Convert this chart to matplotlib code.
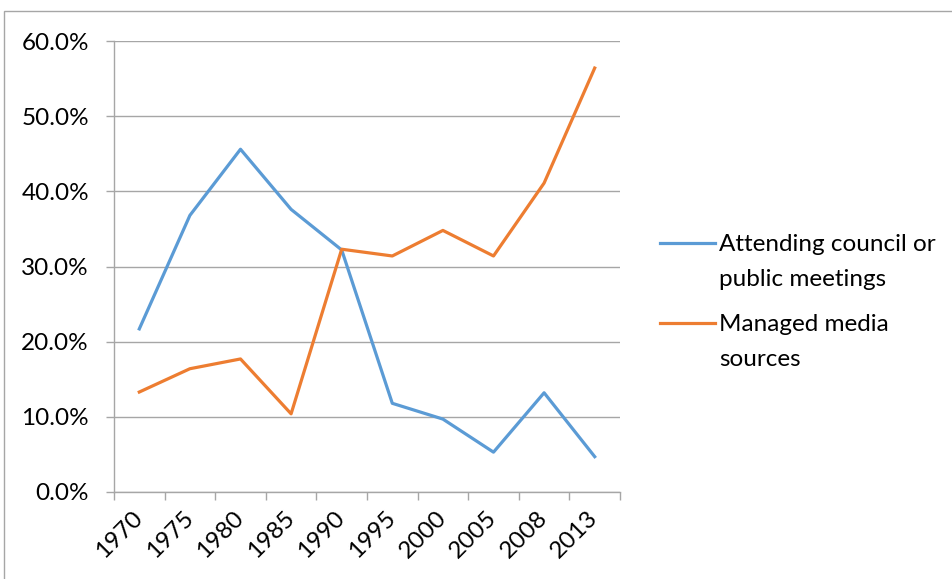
import matplotlib.pyplot as plt
from matplotlib.lines import Line2D
from matplotlib.patches import Rectangle
from matplotlib.ticker import FixedLocator, PercentFormatter

plt.rcParams['font.family'] = ['Lato', 'DejaVu Sans']

years = ['1970', '1975', '1980', '1985', '1990', '1995', '2000', '2005', '2008', '2013']
attending = [0.217, 0.368, 0.456, 0.376, 0.322, 0.118, 0.097, 0.053, 0.132, 0.047]
managed = [0.133, 0.164, 0.177, 0.104, 0.323, 0.314, 0.348, 0.314, 0.411, 0.564]
names = ['Attending council or\npublic meetings', 'Managed media\nsources']
colors = ['#5B9BD5', '#ED7D31']
gray = '#A6A6A6'
fs = 17.5

fig = plt.figure(figsize=(9.52, 5.79), dpi=100)
ax = fig.add_axes([114 / 952, 1 - 492 / 579, 506 / 952, 451 / 579])

x = list(range(len(years)))
ax.plot(x, attending, color=colors[0], lw=2.3, solid_joinstyle='round')
ax.plot(x, managed, color=colors[1], lw=2.3, solid_joinstyle='round')

ax.set_xlim(-0.5, len(years) - 0.5)
ax.set_ylim(0, 0.6)
ax.set_yticks([i / 10 for i in range(7)])
ax.yaxis.set_major_formatter(PercentFormatter(1.0, decimals=1))
ax.grid(axis='y', color=gray, lw=1)
ax.set_axisbelow(True)

# ticks between categories, labels at category centres
ax.xaxis.set_major_locator(FixedLocator([i - 0.5 for i in range(len(years) + 1)]))
ax.set_xticklabels([])
ax.set_xticks(x, minor=True)
ax.set_xticklabels(years, minor=True, rotation=45, ha='right', va='center',
                   rotation_mode='anchor', fontsize=fs)
ax.tick_params(axis='x', which='major', length=6, color=gray, width=1)
ax.tick_params(axis='x', which='minor', length=0, pad=16)
ax.tick_params(axis='y', length=6, color=gray, width=1, labelsize=fs, pad=12)

for s in ['top', 'right']:
    ax.spines[s].set_visible(False)
for s in ['left', 'bottom']:
    ax.spines[s].set_color(gray)
    ax.spines[s].set_linewidth(1)

# legend drawn by hand so the line sits on the first text row
rows = [243, 323]
for name, c, r in zip(names, colors, rows):
    yy = 1 - r / 579
    fig.add_artist(Line2D([660 / 952, 715 / 952], [yy, yy], color=c, lw=2.3,
                          transform=fig.transFigure))
    fig.text(719 / 952, yy + 9 / 579, name, fontsize=fs, va='top', ha='left',
             linespacing=1.8)

# chart area border
fig.add_artist(Rectangle((4 / 952, -0.1), 1.2, 1.1 - 11 / 579, fill=False,
                         edgecolor=gray, lw=1, transform=fig.transFigure))

fig.savefig('out.png', dpi=100)
